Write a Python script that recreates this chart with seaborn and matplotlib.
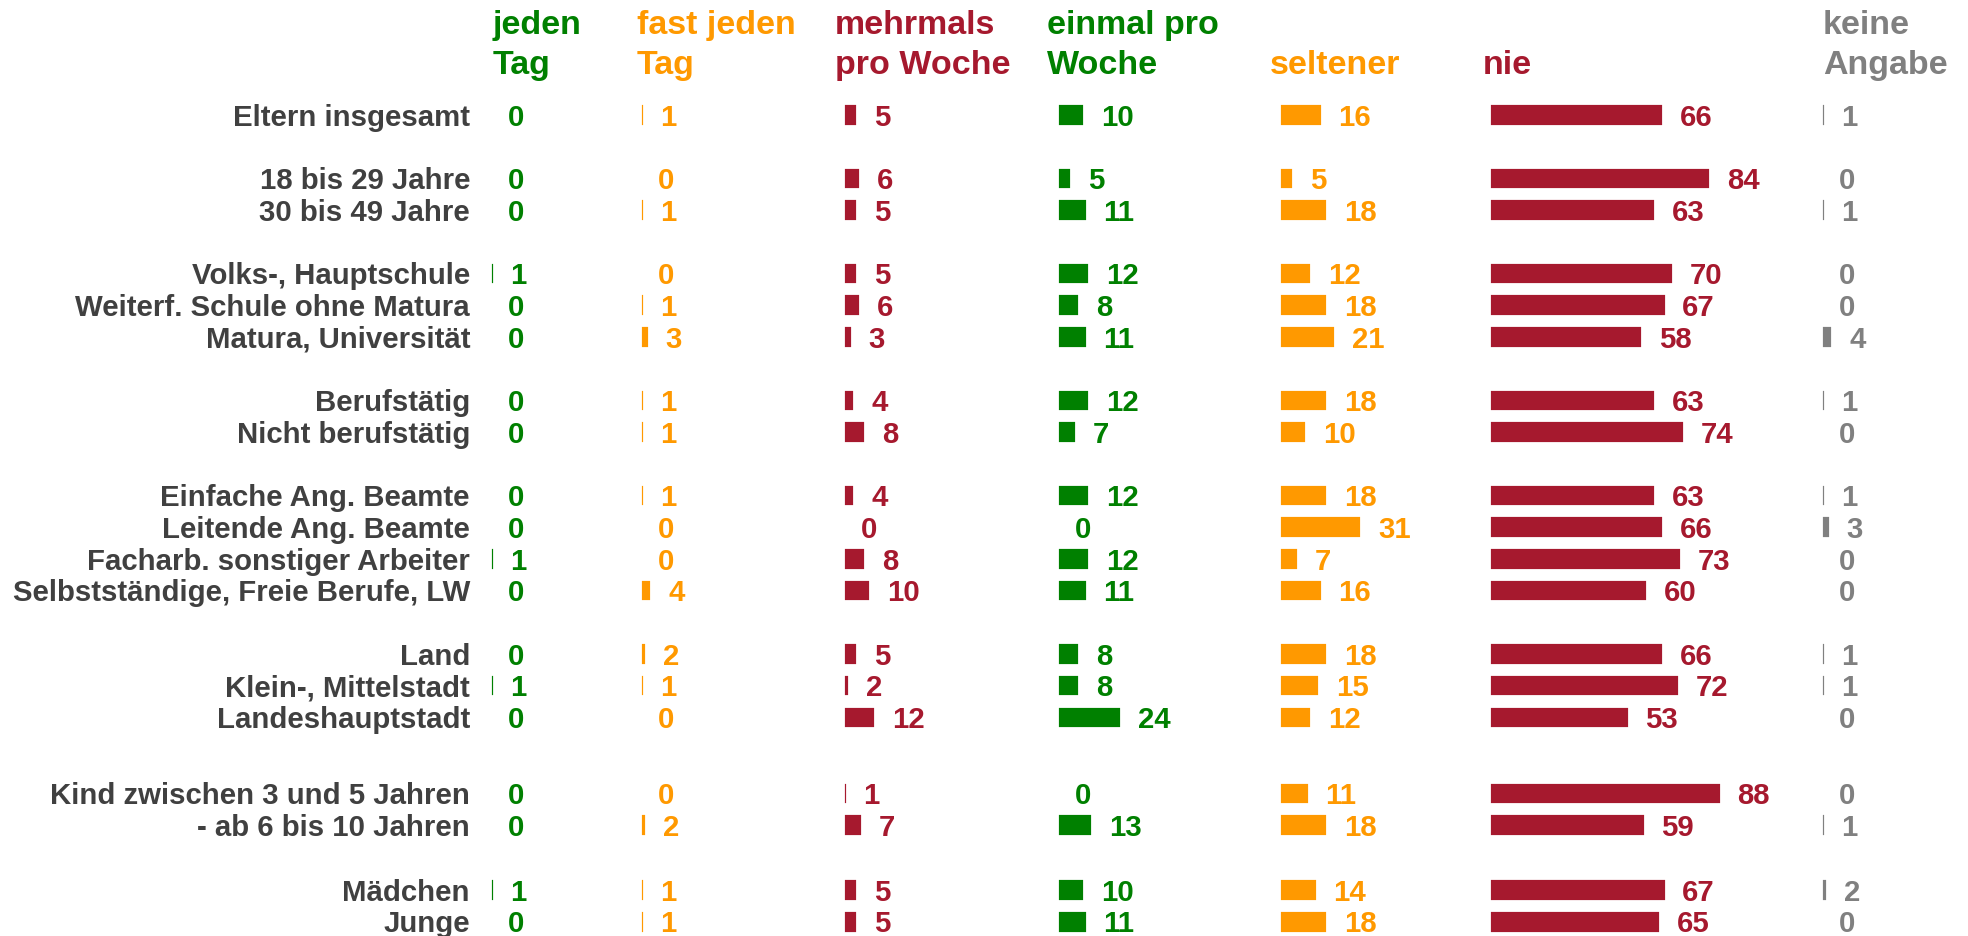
import matplotlib
matplotlib.use("Agg")
import matplotlib.pyplot as plt
import seaborn as sns
import pandas as pd

# ---------------- data ----------------
rows = ["Eltern insgesamt", "18 bis 29 Jahre", "30 bis 49 Jahre",
        "Volks-, Hauptschule", "Weiterf. Schule ohne Matura", "Matura, Universität",
        "Berufstätig", "Nicht berufstätig",
        "Einfache Ang. Beamte", "Leitende Ang. Beamte", "Facharb. sonstiger Arbeiter",
        "Selbstständige, Freie Berufe, LW",
        "Land", "Klein-, Mittelstadt", "Landeshauptstadt",
        "Kind zwischen 3 und 5 Jahren", "- ab 6 bis 10 Jahren",
        "Mädchen", "Junge"]

categories = ["jeden Tag", "fast jeden Tag", "mehrmals pro Woche", "einmal pro Woche",
              "seltener", "nie", "keine Angabe"]
header_lines = [("jeden", "Tag"), ("fast jeden", "Tag"), ("mehrmals", "pro Woche"),
                ("einmal pro", "Woche"), ("", "seltener"), ("", "nie"), ("keine", "Angabe")]

jeden_tag      = [0, 0, 0, 1, 0, 0, 0, 0, 0, 0, 1, 0, 0, 1, 0, 0, 0, 1, 0]
fast_jeden_tag = [1, 0, 1, 0, 1, 3, 1, 1, 1, 0, 0, 4, 2, 1, 0, 0, 2, 1, 1]
mehrmals       = [5, 6, 5, 5, 6, 3, 4, 8, 4, 0, 8, 10, 5, 2, 12, 1, 7, 5, 5]
einmal         = [10, 5, 11, 12, 8, 11, 12, 7, 12, 0, 12, 11, 8, 8, 24, 0, 13, 10, 11]
seltener       = [16, 5, 18, 12, 18, 21, 18, 10, 18, 31, 7, 16, 18, 15, 12, 11, 18, 14, 18]
nie            = [66, 84, 63, 70, 67, 58, 63, 74, 63, 66, 73, 60, 66, 72, 53, 88, 59, 67, 65]
keine_angabe   = [1, 0, 1, 0, 0, 4, 1, 0, 1, 3, 0, 0, 1, 1, 0, 0, 1, 2, 0]

series = [jeden_tag, fast_jeden_tag, mehrmals, einmal, seltener, nie, keine_angabe]

# ---------------- layout / style ----------------
row_slots = [0, 2, 3, 5, 6, 7, 9, 10, 12, 13, 14, 15, 17, 18, 19, 21.4, 22.4, 24.45, 25.45]
colors = ["#008000", "#FF9900", "#A6192E", "#008000", "#FF9900", "#A6192E", "#808080"]
col_start_px = [491, 641, 844, 1058, 1280, 1490, 1822]
header_x_px = [493, 637, 835, 1047, 1270, 1483, 1823]
W, H = 1968, 936
px_per_unit = 2.62
y0_px, slot_px = 115, 31.7
label_color = "#404040"
FONT = "Liberation Sans"
FS = 21.2
half_cap_px = 10.7  # half of cap height, so text is centred on the bar

sns.set_theme(style="white")
plt.rcParams["font.family"] = [FONT, "DejaVu Sans"]

fig = plt.figure(figsize=(W / 100, H / 100), dpi=100)
fig.patch.set_facecolor("white")

ylim_top = -y0_px / slot_px
ylim_bot = (H - y0_px) / slot_px

for i, (cat, vals, col) in enumerate(zip(categories, series, colors)):
    left = col_start_px[i]
    right = col_start_px[i + 1] if i + 1 < len(col_start_px) else W
    width_px = right - left
    ax = fig.add_axes([left / W, 0, width_px / W, 1])
    df = pd.DataFrame({"pos": row_slots, "value": vals})
    sns.barplot(data=df, x="value", y="pos", orient="h", native_scale=True,
                color=col, width=0.68, edgecolor="white", linewidth=1.3,
                errorbar=None, saturation=1, ax=ax)
    ax.set_xlim(0, width_px / px_per_unit)
    ax.set_ylim(ylim_bot, ylim_top)
    ax.axis("off")
    for v, p in zip(vals, row_slots):
        ax.annotate(str(v), xy=(v, p), xytext=(12, -half_cap_px * 0.72),
                    textcoords="offset points",
                    ha="left", va="baseline", fontsize=FS, fontweight="bold",
                    color=col, family=[FONT, "DejaVu Sans"])
    l1, l2 = header_lines[i]
    if l1:
        fig.text(header_x_px[i] / W, 1 - 34 / H, l1, ha="left", va="baseline",
                 fontsize=24.5, fontweight="bold", color=col)
    fig.text(header_x_px[i] / W, 1 - 74 / H, l2, ha="left", va="baseline",
             fontsize=24.5, fontweight="bold", color=col)

# row labels
for name, p in zip(rows, row_slots):
    y_px = y0_px + slot_px * p + half_cap_px
    fig.text(470 / W, 1 - y_px / H, name, ha="right", va="baseline",
             fontsize=FS, fontweight="bold", color=label_color)

fig.savefig("out.png", dpi=100, facecolor="white")
